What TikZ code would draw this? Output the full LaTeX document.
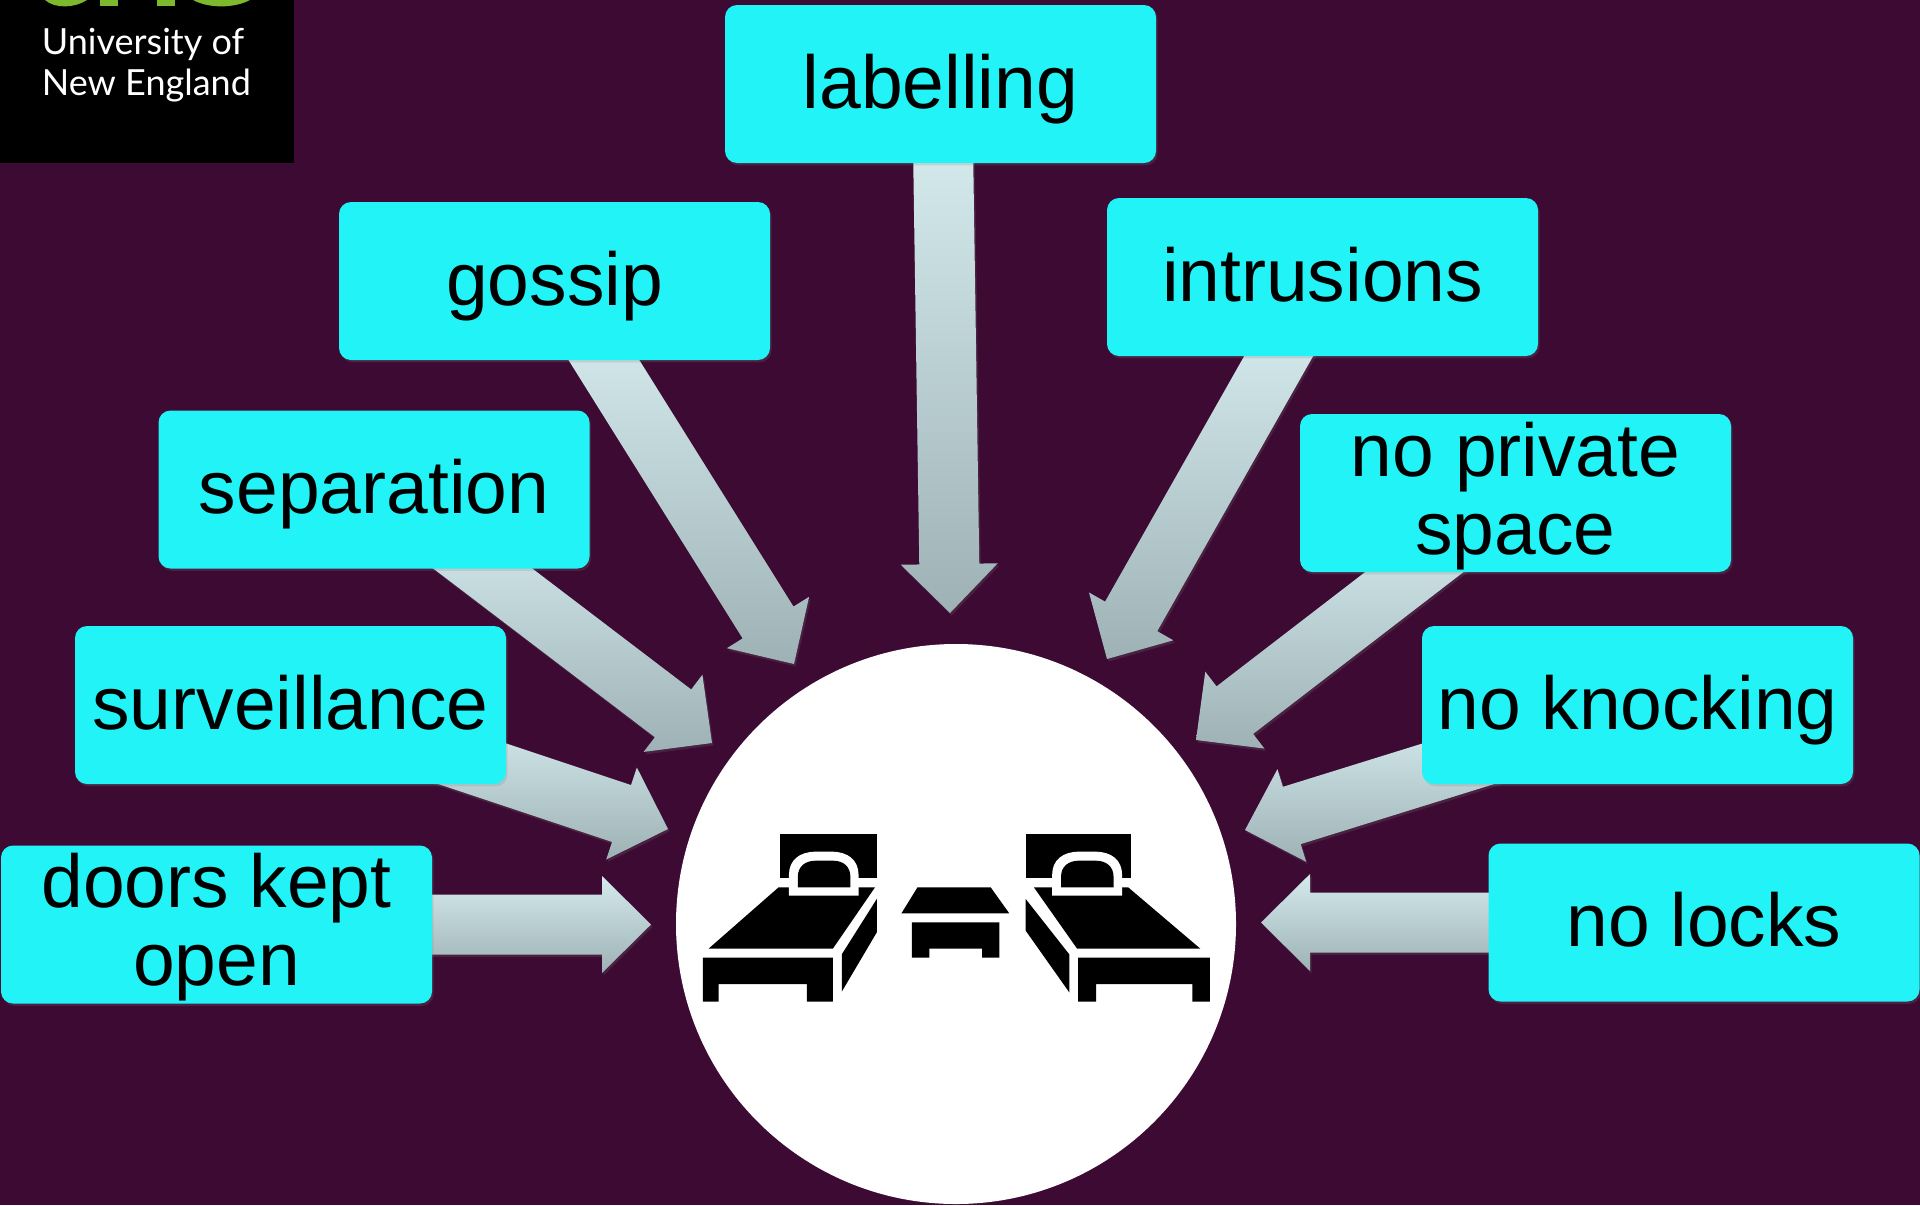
\documentclass[tikz,border=0pt]{standalone}
\usepackage{fontspec}
\setmainfont{Liberation Sans}
\newfontfamily\logofont{Lato}
\usetikzlibrary{calc,shadows,backgrounds}
\definecolor{roombg}{RGB}{60,10,50}
\definecolor{boxcyan}{RGB}{34,243,247}
\definecolor{arrowtop}{RGB}{212,234,237}
\definecolor{arrowbot}{RGB}{158,178,182}
\definecolor{logogreen}{RGB}{125,185,45}
\tikzset{
  labelbox/.style={fill=boxcyan,rounded corners=6pt,minimum width=215.5pt,minimum height=79pt,
    inner sep=0pt,align=center,font=\fontsize{37.5}{39}\selectfont,text=black,
    drop shadow={shadow xshift=.8pt,shadow yshift=-1.2pt,opacity=.2}},
  oneline/.style={text height=30pt,text depth=6pt},
  arrowfill/.style={top color=arrowtop,bottom color=arrowbot,
    drop shadow={shadow xshift=.8pt,shadow yshift=-1.2pt,opacity=.2}}
}
\newcommand{\topstrut}{\rule{0pt}{30pt}}
\newcommand{\botstrut}{\rule[-6pt]{0pt}{6pt}}
% optional argument: how far the tail runs on under its box
\newcommand{\blockarrow}[3][10pt]{
  \coordinate (arrowtail) at ($(#2)!-#1!(#3)$);
  \coordinate (arrowbase) at ($(#3)!24.5pt!(#2)$);
  \path[arrowfill] ($(arrowtail)!15pt!90:(#3)$) -- ($(arrowbase)!15pt!90:(#3)$)
    -- ($(arrowbase)!24.25pt!90:(#3)$) -- (#3) -- ($(arrowbase)!24.25pt!-90:(#3)$)
    -- ($(arrowbase)!15pt!-90:(#3)$) -- ($(arrowtail)!15pt!-90:(#3)$) -- cycle;
}
\begin{document}
\begin{tikzpicture}[x=.5pt,y=-.5pt]
  \useasboundingbox (0,0) rectangle (1920,1205);

  \node[labelbox,oneline] (labelling) at (940.5,84) {labelling};
  \node[labelbox,oneline] (gossip) at (554.5,281) {gossip};
  \node[labelbox,oneline] (intrusions) at (1322.5,277) {intrusions};
  \node[labelbox,oneline] (separation) at (374,489.5) {separation};
  \node[labelbox] (noprivate) at (1515.5,493) {\topstrut no private\\space\botstrut};
  \node[labelbox,oneline] (surveillance) at (290.5,705) {surveillance};
  \node[labelbox,oneline] (noknocking) at (1637.5,705) {no knocking};
  \node[labelbox] (doors) at (216.5,924.5) {\topstrut doors kept\\open\botstrut};
  \node[labelbox,oneline] (nolocks) at (1704,922.5) {no locks};

  \coordinate (labellingtip) at (950,613);
  \coordinate (gossiptip) at (794,664);
  \coordinate (intrusionstip) at (1107,659);
  \coordinate (separationtip) at (712,743);
  \coordinate (noprivatetip) at (1196,740);
  \coordinate (surveillancetip) at (668,829);
  \coordinate (noknockingtip) at (1245,830);
  \coordinate (doorstip) at (651,924.5);
  \coordinate (nolockstip) at (1261,922.5);

  \begin{scope}[on background layer]
    \fill[roombg] (0,0) rectangle (1920,1205);
    \blockarrow{labelling.-88}{labellingtip}
    \blockarrow{gossip.-58}{gossiptip}
    \blockarrow{intrusions.-119}{intrusionstip}
    \blockarrow[25pt]{separation.-36}{separationtip}
    \blockarrow[25pt]{noprivate.-142}{noprivatetip}
    \blockarrow[45pt]{surveillance.-18}{surveillancetip}
    \blockarrow[45pt]{noknocking.-162}{noknockingtip}
    \blockarrow{doors.east}{doorstip}
    \blockarrow{nolocks.west}{nolockstip}
  \end{scope}

  % logo
  \fill[black] (0,0) rectangle (294,163);
  \fill[logogreen] (45,0) .. controls (55,9) and (75,8) .. (87,0) -- cycle;
  \fill[logogreen] (100,0) rectangle (118,6);
  \fill[logogreen] (157,0) rectangle (175,6);
  \fill[logogreen] (193,0) .. controls (210,9) and (235,8) .. (250,0) -- cycle;
  \node[text=white,font=\logofont\fontsize{18}{20.5}\selectfont,align=left,anchor=north west,inner sep=0pt] (logo) at (41.5,28) {University of\\New England};

  % room
  \node[circle,fill=white,minimum size=280pt,inner sep=0pt] (room) at (956,924) {};
  \begin{scope}[shift={(680,800)},xscale=1/2.8,yscale=1/3]
    % left bed
    \fill[black] (281,103) rectangle (551,235);
    \fill[black] (80,446) -- (276,262) -- (546,262) -- (428,446) -- cycle;
    \fill[black] (64,473) -- (428,473) -- (428,605) -- (355,605) -- (355,552) -- (108,552) -- (108,605) -- (64,605) -- cycle;
    \fill[black] (453,463) -- (551,297) -- (551,397) -- (453,575) -- cycle;
    \fill[white] (305,287) -- (305,225) .. controls (305,180) and (335,155) .. (380,155) -- (425,155) .. controls (470,155) and (500,180) .. (500,225) -- (500,287) -- cycle;
    \fill[black] (330,262) -- (330,230) .. controls (330,200) and (350,182) .. (380,182) -- (428,182) .. controls (458,182) and (477,200) .. (477,230) -- (477,262) -- cycle;
    % table
    \fill[black] (665,262) -- (870,262) -- (922,340) -- (620,340) -- cycle;
    \fill[black] (649,367) -- (894,367) -- (894,473) -- (846,473) -- (846,446) -- (698,446) -- (698,473) -- (649,473) -- cycle;
    % right bed
    \fill[black] (968,103) rectangle (1263,235);
    \fill[black] (991,262) -- (1255,262) -- (1457,446) -- (1112,446) -- cycle;
    \fill[black] (1115,473) -- (1484,473) -- (1484,605) -- (1435,605) -- (1435,552) -- (1165,552) -- (1165,605) -- (1115,605) -- cycle;
    \fill[black] (968,297) -- (1090,463) -- (1090,577) -- (968,392) -- cycle;
    \fill[white] (1042,287) -- (1042,225) .. controls (1042,180) and (1072,155) .. (1117,155) -- (1163,155) .. controls (1208,155) and (1238,180) .. (1238,225) -- (1238,287) -- cycle;
    \fill[black] (1067,262) -- (1067,230) .. controls (1067,200) and (1087,182) .. (1117,182) -- (1164,182) .. controls (1194,182) and (1214,200) .. (1214,230) -- (1214,262) -- cycle;
  \end{scope}

\end{tikzpicture}
\end{document}
